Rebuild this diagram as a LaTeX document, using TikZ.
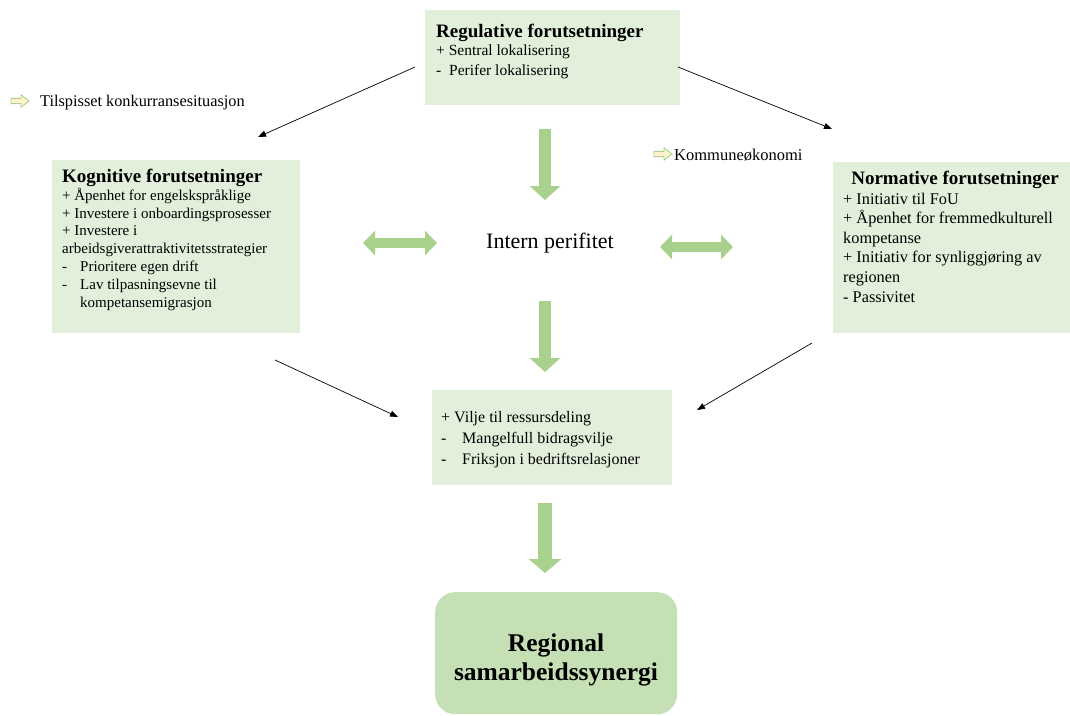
\documentclass[tikz,border=0pt]{standalone}
\usepackage{fontspec}
\setmainfont{Liberation Serif}
\usetikzlibrary{arrows.meta}
\definecolor{boxgreen}{HTML}{E2EFDA}
\definecolor{darkgreen}{HTML}{C5E0B4}
\definecolor{arrowgreen}{HTML}{A9D18E}
\definecolor{iconyellow}{HTML}{FFF2CC}
\newcommand\dashitem[2]{\makebox[#1][l]{-}#2}
\begin{document}
\begin{tikzpicture}[x=1pt,y=-1pt,
  lightbox/.style={fill=boxgreen,draw=none},
  titletext/.style={inner sep=0pt,font=\fontsize{19}{22}\selectfont\bfseries},
  bodytext/.style={inner sep=0pt,align=left,anchor=base west},
  thinarrow/.style={draw=black,line width=0.7pt,-{Triangle[length=8pt,width=6pt]}},
  bigdown/.style={draw=arrowgreen,line width=12pt,-{Triangle[length=14pt,width=30pt]}},
  bigboth/.style={draw=arrowgreen,line width=10pt,{Triangle[length=12pt,width=24pt]}-{Triangle[length=12pt,width=24pt]}},
  hollowarrow/.pic={\draw[fill=iconyellow,draw=arrowgreen,line width=0.9pt,line join=miter]
     (0,-2.6) -- (10,-2.6) -- (10,-6.2) -- (18,0) -- (10,6.2) -- (10,2.6) -- (0,2.6) -- cycle;}
]
\useasboundingbox (0,0) rectangle (1070,715);

% boxes
\node[lightbox,minimum width=255pt,minimum height=95pt,anchor=north west,inner sep=0pt] (reg) at (425,10) {};
\node[lightbox,minimum width=248pt,minimum height=173pt,anchor=north west,inner sep=0pt] (kog) at (52,160) {};
\node[lightbox,minimum width=237pt,minimum height=171pt,anchor=north west,inner sep=0pt] (nor) at (833,162) {};
\node[lightbox,minimum width=240pt,minimum height=95pt,anchor=north west,inner sep=0pt] (mid) at (432,390) {};
\node[fill=darkgreen,rounded corners=20pt,minimum width=242pt,minimum height=122pt,anchor=north west,inner sep=0pt] (syn) at (435,592) {};

% Regulative (anchor = baseline of last line)
\node[titletext,anchor=base west] (regT) at (436,37) {Regulative forutsetninger};
\node[bodytext,font=\fontsize{15.5}{19.5}\selectfont] (regB) at (436,75)
  {+ Sentral lokalisering\\ \dashitem{13pt}{Perifer lokalisering}};

% Kognitive
\node[titletext,anchor=base west] (kogT) at (62,182) {Kognitive forutsetninger};
\node[bodytext,font=\fontsize{15}{17.9}\selectfont] (kogB) at (62,307.5)
  {+ Åpenhet for engelskspråklige\\
   + Investere i onboardingsprosesser\\
   + Investere i\\
   arbeidsgiverattraktivitetsstrategier\\
   \dashitem{18pt}{Prioritere egen drift}\\
   \dashitem{18pt}{Lav tilpasningsevne til}\\
   \hspace*{18pt}kompetansemigrasjon};

% Normative
\node[titletext,anchor=base] (norT) at (955,184) {Normative forutsetninger};
\node[bodytext,font=\fontsize{16.3}{19.6}\selectfont] (norB) at (843,302)
  {+ Initiativ til FoU\\
   + Åpenhet for fremmedkulturell\\
   kompetanse\\
   + Initiativ for synliggjøring av\\
   regionen\\
   - Passivitet};

% Middle box
\node[bodytext,font=\fontsize{16}{21}\selectfont] (midB) at (441,464)
  {+ Vilje til ressursdeling\\
   \dashitem{21pt}{Mangelfull bidragsvilje}\\
   \dashitem{21pt}{Friksjon i bedriftsrelasjoner}};

% Synergy
\node[inner sep=0pt,align=center,anchor=base,font=\fontsize{25.5}{29}\selectfont\bfseries] (synT) at (556,680)
  {Regional\\ samarbeidssynergi};

% Center text
\node[inner sep=0pt,anchor=base,font=\fontsize{22}{26}\selectfont] (intern) at (550,248) {Intern perifitet};

% Side notes
\pic at (11,101) {hollowarrow};
\node[inner sep=0pt,anchor=base west,font=\fontsize{16.3}{19}\selectfont] (tilsp) at (40,106) {Tilspisset konkurransesituasjon};
\pic at (654,154) {hollowarrow};
\node[inner sep=0pt,anchor=base west,font=\fontsize{16.5}{19}\selectfont] (komm) at (674,160) {Kommuneøkonomi};

% thin arrow endpoints
\coordinate (rk1) at (415,67);  \coordinate (rk2) at (258,137);
\coordinate (rn1) at (678,67);  \coordinate (rn2) at (832,129);
\coordinate (km1) at (275,360); \coordinate (km2) at (398,417);
\coordinate (nm1) at (812,343); \coordinate (nm2) at (697,410);
\draw[thinarrow] (rk1) -- (rk2);
\draw[thinarrow] (rn1) -- (rn2);
\draw[thinarrow] (km1) -- (km2);
\draw[thinarrow] (nm1) -- (nm2);

% thick green arrows
\coordinate (d1a) at (545,129); \coordinate (d1b) at (545,200);
\coordinate (d2a) at (545,301); \coordinate (d2b) at (545,372);
\coordinate (d3a) at (545,503); \coordinate (d3b) at (545,573);
\coordinate (l1) at (363,243); \coordinate (l2) at (437,243);
\coordinate (r1) at (660,247); \coordinate (r2) at (733,247);
\draw[bigdown] (d1a) -- (d1b);
\draw[bigdown] (d2a) -- (d2b);
\draw[bigdown,line width=14pt,-{Triangle[length=14pt,width=32pt]}] (d3a) -- (d3b);
\draw[bigboth] (l1) -- (l2);
\draw[bigboth] (r1) -- (r2);
\end{tikzpicture}
\end{document}
